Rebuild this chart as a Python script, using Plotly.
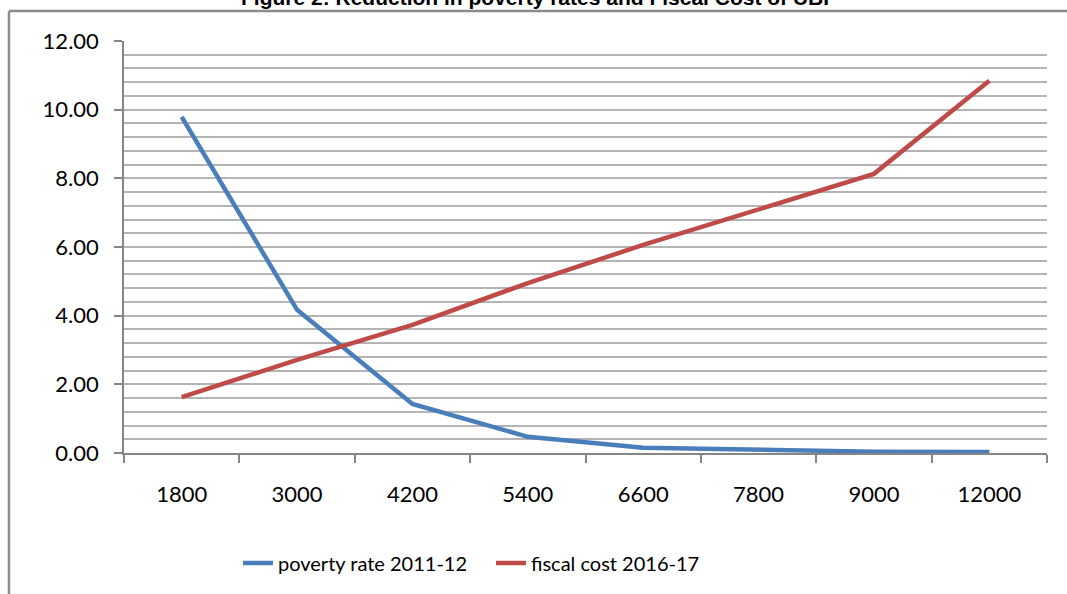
import plotly.graph_objects as go

categories = ["1800", "3000", "4200", "5400", "6600", "7800", "9000", "12000"]
poverty_rate = [9.79, 4.17, 1.43, 0.47, 0.15, 0.08, 0.04, 0.03]
fiscal_cost = [1.63, 2.71, 3.73, 4.95, 6.06, 7.08, 8.13, 10.84]
y_ticks = [0, 2, 4, 6, 8, 10, 12]

W, H = 1067, 594
ML, MR, MT, MB = 124, 20, 41, 141
PW, PH = W - ML - MR, H - MT - MB

def px_x(px):
    return (px - ML) / PW

def px_y(py):
    return (H - MB - py) / PH

fig = go.Figure()
fig.add_trace(go.Scatter(x=categories, y=poverty_rate, mode="lines",
                         name="poverty rate 2011-12",
                         line=dict(color="#4a7ebb", width=4.5)))
fig.add_trace(go.Scatter(x=categories, y=fiscal_cost, mode="lines",
                         name="fiscal cost 2016-17",
                         line=dict(color="#be4b48", width=4.5)))

grid_col = "#b4b4b4"
axis_col = "#868686"
font_fam = "Lato, Open Sans, sans-serif"

fig.update_layout(
    width=W, height=H,
    margin=dict(l=ML, r=MR, t=MT, b=MB),
    paper_bgcolor="white", plot_bgcolor="white",
    font=dict(family=font_fam, size=22, color="black"),
    showlegend=True,
    legend=dict(orientation="h", x=px_x(238), xanchor="left",
                y=px_y(563), yanchor="middle",
                font=dict(size=20, family=font_fam),
                bgcolor="rgba(0,0,0,0)", entrywidth=208, entrywidthmode="pixels",
                tracegroupgap=0),
    xaxis=dict(type="category", range=[-0.5, 7.5], showgrid=False,
               showline=True, linecolor=axis_col, linewidth=1.5,
               ticks="outside", ticklen=8, tickcolor=axis_col, tickwidth=1.5,
               tickson="boundaries", ticklabelstandoff=21,
               tickfont=dict(size=22, family=font_fam)),
    yaxis=dict(range=[0, 12], tickvals=y_ticks, tickformat=".2f",
               showgrid=True, gridcolor=grid_col, gridwidth=1.5,
               showline=True, linecolor=axis_col, linewidth=1.5,
               ticks="outside", ticklen=8, tickcolor=axis_col, tickwidth=1.5,
               ticklabelstandoff=11, zeroline=False,
               minor=dict(dtick=0.4, showgrid=True, gridcolor=grid_col,
                          gridwidth=1.5, ticks=""),
               tickfont=dict(size=22, family=font_fam)),
)

# chart frame (left and top border)
fig.add_shape(type="line", xref="paper", yref="paper",
              x0=px_x(9), x1=px_x(9), y0=px_y(11), y1=px_y(600),
              line=dict(color="#8c8c8c", width=2.5))
fig.add_shape(type="line", xref="paper", yref="paper",
              x0=px_x(9), x1=px_x(1070), y0=px_y(11), y1=px_y(11),
              line=dict(color="#8c8c8c", width=2.5))

fig.add_annotation(text="<b>Figure 2: Reduction in poverty rates and Fiscal Cost of UBI</b>",
                   xref="paper", yref="paper", x=px_x(535), y=px_y(11),
                   xanchor="center", yanchor="bottom", showarrow=False,
                   font=dict(family="Liberation Sans, Arial, sans-serif", size=21, color="black"))

fig.write_html("out.html")
